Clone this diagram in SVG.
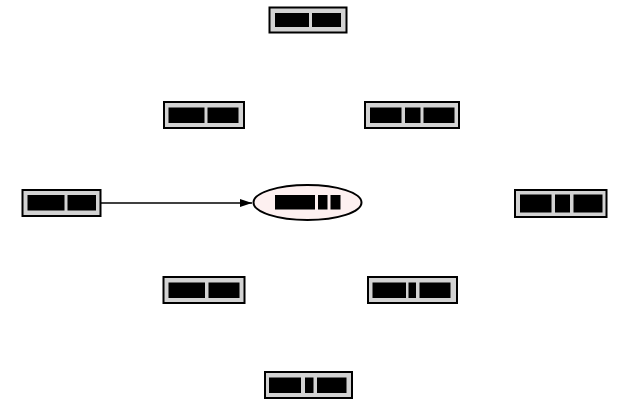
<svg xmlns="http://www.w3.org/2000/svg" width="619" height="404" viewBox="0 0 619 404">
<defs>
<style>
.box{fill:#d3d3d3;stroke:#000;stroke-width:2}
.blk{fill:#000}
.ell{fill:#fdf0f0;stroke:#000;stroke-width:2}
.edge{stroke:#000;stroke-width:1.5;fill:none}
</style>
<marker id="arr" markerWidth="12" markerHeight="8" refX="12" refY="4" orient="auto" markerUnits="userSpaceOnUse">
<path d="M0,0 L12,4 L0,8 Z" fill="#000"/>
</marker>
</defs>
<rect width="619" height="404" fill="#fff"/>
<g id="edges">
<line class="edge" x1="101" y1="203" x2="252" y2="203" marker-end="url(#arr)"/>
</g>
<g id="n1">
<rect class="box" x="269.5" y="7.5" width="77" height="25"/>
<rect class="blk" x="275" y="13" width="34" height="14"/>
<rect class="blk" x="312" y="13" width="29" height="14"/>
</g>
<g id="n2">
<rect class="box" x="164" y="102" width="80" height="26"/>
<rect class="blk" x="168.5" y="107.5" width="36" height="15.5"/>
<rect class="blk" x="207.5" y="107.5" width="31" height="15.5"/>
</g>
<g id="n3">
<rect class="box" x="365" y="102" width="94" height="26"/>
<rect class="blk" x="370" y="107.5" width="31.5" height="15.5"/>
<rect class="blk" x="405" y="107.5" width="15.5" height="15.5"/>
<rect class="blk" x="423.5" y="107.5" width="31" height="15.5"/>
</g>
<g id="n4">
<rect class="box" x="22.5" y="190" width="78" height="26"/>
<rect class="blk" x="27.5" y="195" width="37" height="15.5"/>
<rect class="blk" x="67.5" y="195" width="28.5" height="15.5"/>
</g>
<g id="n5">
<ellipse class="ell" cx="307.5" cy="202.5" rx="54" ry="17.5"/>
<rect class="blk" x="275" y="195" width="40" height="14.5"/>
<rect class="blk" x="318" y="195" width="9.5" height="14.5"/>
<rect class="blk" x="330.5" y="195" width="10" height="14.5"/>
</g>
<g id="n6">
<rect class="box" x="515" y="190" width="91.5" height="27"/>
<rect class="blk" x="520" y="194.5" width="31.5" height="18"/>
<rect class="blk" x="555" y="194.5" width="15" height="18"/>
<rect class="blk" x="573.5" y="194.5" width="29" height="18"/>
</g>
<g id="n7">
<rect class="box" x="163.5" y="277" width="81" height="26"/>
<rect class="blk" x="168.5" y="282.5" width="36.5" height="15.5"/>
<rect class="blk" x="208.5" y="282.5" width="31" height="15.5"/>
</g>
<g id="n8">
<rect class="box" x="368" y="277" width="89" height="26"/>
<rect class="blk" x="372.5" y="282.5" width="33.5" height="15.5"/>
<rect class="blk" x="408.5" y="282.5" width="7.5" height="15.5"/>
<rect class="blk" x="419.5" y="282.5" width="31" height="15.5"/>
</g>
<g id="n9">
<rect class="box" x="265" y="372" width="87" height="26"/>
<rect class="blk" x="269" y="377.5" width="32" height="15.5"/>
<rect class="blk" x="305" y="377.5" width="8.5" height="15.5"/>
<rect class="blk" x="317" y="377.5" width="29.5" height="15.5"/>
</g>
</svg>
